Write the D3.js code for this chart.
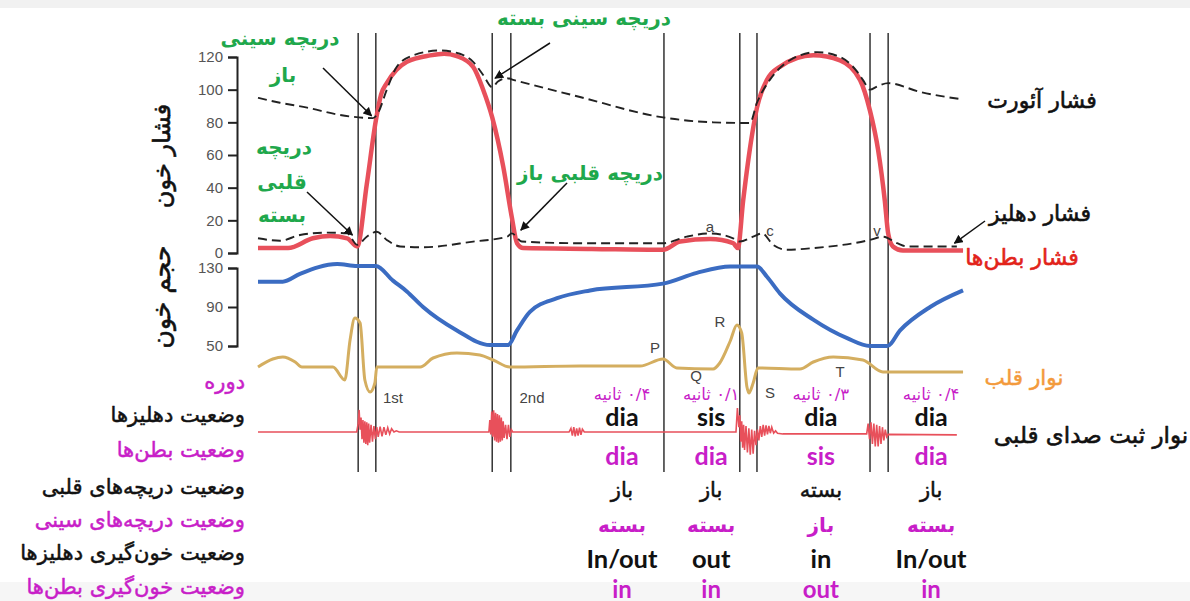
<!DOCTYPE html>
<html><head><meta charset="utf-8">
<script src="https://cdn.jsdelivr.net/npm/d3@7"></script>
<style>body{margin:0;background:#fff}svg{display:block}</style>
</head><body><svg id="c" width="1190" height="601"></svg>
<script>
// ---- data (time in ms) ----
const ventricularPressure = [[0,3],[63,3],[115,9],[151,10.4],[187,9],[208,4],[228,42],[247,81],[258,97],[270,104],[290,112],[312,117],[361,121],[390,122],[417,120.5],[451,114],[472,100],[491,83],[514,53],[532,22],[543,6],[556,3],[700,2.5],[849,2],[885,7],[948,8.5],[996,6],[1006,3],[1017,32],[1036,73],[1046,89],[1067,106],[1094,114],[1164,121],[1220,118],[1262,106],[1283,87],[1300,63],[1314,32],[1321,12],[1331,4],[1352,1.5],[1478,1.5]];
const aorticPressure = [[0,95],[46,92],[103,89],[172,84.5],[241,82.6],[252,86],[270,100],[291,114],[325,121],[382,124],[423,122],[451,117],[472,109],[491,101.5],[503,105],[522,107],[535,106],[675,95.5],[849,83],[954,80],[1031,79.6],[1046,92],[1073,106],[1115,118],[1172,123],[1220,120],[1256,111],[1268,106],[1283,100],[1298,102],[1321,104],[1388,98.6],[1478,94]];
const atrialPressure = [[0,9],[46,7.5],[88,11],[145,12.5],[187,12],[208,5],[228,10],[249,13],[270,8],[298,4],[346,3.5],[451,7],[522,10],[532,12],[553,7],[675,6],[849,6],[899,10],[948,12],[996,9],[1010,7],[1038,10],[1057,12],[1080,5],[1109,2],[1164,3],[1283,8],[1310,10],[1340,6],[1361,4],[1465,4]];
const ventricularVolume = [[0,116],[52,116],[88,124],[166,134],[208,132],[247,132],[283,117],[312,106],[346,90],[417,66],[486,51],[524,51],[543,66],[570,85],[627,99],[696,107],[849,114],[920,125],[990,131.5],[1046,131.5],[1067,121],[1094,104],[1164,77],[1235,58],[1283,50],[1319,50],[1346,66],[1409,90],[1478,107]];
const ecg = [[0,0],[31,0.16],[52,0.2],[78,0.1],[92,0],[157,0],[182,-0.26],[193,0.54],[203,0.98],[214,0.88],[224,-0.26],[235,-0.5],[245,-0.32],[249,0],[340,0],[367,0.18],[417,0.28],[465,0.24],[493,0.14],[528,0],[675,0.02],[801,0.02],[849,0.16],[878,-0.02],[954,-0.04],[968,0.08],[990,0.52],[1004,0.84],[1014,0.68],[1025,-0.4],[1029,-0.52],[1038,-0.32],[1048,-0.02],[1136,-0.04],[1164,0.1],[1206,0.2],[1268,0.14],[1310,-0.1],[1478,-0.1]];
const phono = [[0,0],[207,0],
[210,0.35],[212,0.92],[214,0.1],[216,0.6],[218,-0.3],[220,0.5],[222,-0.45],[224,0.45],[226,-0.5],[228,0.4],[230,-0.55],[232,0.35],[234,-0.45],[237,0.3],[240,-0.4],[243,0.25],[246,-0.3],[249,0.2],[252,-0.2],[256,0.22],[260,-0.18],[264,0.2],[268,-0.12],[272,0.18],[276,-0.08],[280,0.14],[285,0],[290,0.05],[296,0],
[484,0],[486,0.5],[488,-0.1],[490,0.85],[492,-0.2],[494,0.9],[496,-0.35],[498,0.8],[500,-0.4],[502,0.75],[504,-0.45],[506,0.7],[508,-0.4],[510,0.6],[512,-0.35],[514,0.45],[516,-0.25],[519,0.3],[522,-0.3],[525,0.3],[528,-0.2],[531,0.1],[534,0],
[652,0],[656,0.15],[659,-0.15],[662,0.2],[665,-0.18],[668,0.15],[671,-0.15],[674,0.18],[677,-0.12],[680,0.12],[684,0],
[1002,0],[1005,1.0],[1008,0.2],[1010,0.7],[1012,-0.4],[1014,0.45],[1016,-0.65],[1018,0.3],[1020,-0.75],[1023,0.25],[1026,-0.85],[1029,0.15],[1032,-0.95],[1035,0.1],[1038,-0.9],[1041,0.05],[1044,-0.55],[1047,0.1],[1050,-0.35],[1053,0.25],[1056,-0.2],[1059,0.3],[1062,-0.15],[1065,0.28],[1068,-0.1],[1071,0.25],[1074,-0.05],[1077,0.2],[1081,-0.05],[1085,0.05],[1089,-0.05],[1100,-0.08],
[1276,-0.08],[1279,0.35],[1282,-0.3],[1285,0.4],[1288,-0.5],[1291,0.35],[1294,-0.6],[1297,0.3],[1300,-0.6],[1303,0.25],[1306,-0.5],[1309,0.2],[1312,-0.35],[1315,0.1],[1318,-0.2],[1321,-0.1],[1465,-0.12]];
const eventTimes = [210,247,491,530,851,1010,1046,1283,1321];
const pressureTicks = [0,20,40,60,80,100,120];
const volumeTicks = [50,90,130];
const columnTimes = [763,950,1180,1411];
const periodDurations = ["۰/۴ ثانیه","۰/۱ ثانیه","۰/۳ ثانیه","۰/۴ ثانیه"];
const atriaState = ["dia","sis","dia","dia"];
const ventricleState = ["dia","dia","sis","dia"];
const avValveState = ["باز","باز","بسته","باز"];
const semilunarState = ["بسته","بسته","باز","بسته"];
const atriaFlow = ["In/out","out","in","In/out"];
const ventricleFlow = ["in","in","out","in"];
const rowLabels = ["دوره","وضعیت دهلیزها","وضعیت بطن‌ها","وضعیت دریچه‌های قلبی","وضعیت دریچه‌های سینی","وضعیت خون‌گیری دهلیزها","وضعیت خون‌گیری بطن‌ها"];

// ---- drawing ----
const svg = d3.select("#c");
const AR = "'DejaVu Sans', sans-serif";
const MAG = "#c81ec8", GREEN = "#1fa84c", RED = "#e8505b";
svg.append("rect").attr("width",1190).attr("height",601).attr("fill","#fff");
svg.append("rect").attr("width",1190).attr("height",8).attr("fill","#f1f1f1");
svg.append("rect").attr("y",582).attr("width",1190).attr("height",19).attr("fill","#f6f6f6");

const x = d3.scaleLinear().domain([0,1480]).range([258,964]);
const yP = d3.scaleLinear().domain([0,120]).range([253,57]);
const yV = d3.scaleLinear().domain([50,130]).range([346,268]);
const yE = d3.scaleLinear().domain([-1,1]).range([417,317]);
const yS = d3.scaleLinear().domain([-1,1]).range([456,408]);

const defs = svg.append("defs");
defs.append("marker").attr("id","ah").attr("viewBox","0 0 10 10").attr("refX",9).attr("refY",5)
  .attr("markerWidth",9).attr("markerHeight",9).attr("markerUnits","userSpaceOnUse").attr("orient","auto")
  .append("path").attr("d","M0,0L10,5L0,10z").attr("fill","#111");

// vertical event lines
svg.append("g").selectAll("line").data(eventTimes).join("line")
  .attr("x1",d=>x(d)).attr("x2",d=>x(d)).attr("y1",33).attr("y2",472)
  .attr("stroke","#333").attr("stroke-width",1.5);

// axes
function styleAxis(g){
  g.selectAll("path,line").attr("stroke","#222").attr("stroke-width",2);
  g.selectAll("text").attr("fill","#555").attr("font-family","'Liberation Sans', Arial, sans-serif").attr("font-size",15);
}
svg.append("g").attr("transform","translate(237,0)")
  .call(d3.axisLeft(yP).tickValues(pressureTicks).tickSize(9).tickSizeOuter(9).tickPadding(5)).call(styleAxis);
svg.append("g").attr("transform","translate(237,0)")
  .call(d3.axisLeft(yV).tickValues(volumeTicks).tickSize(9).tickSizeOuter(9).tickPadding(5)).call(styleAxis);

const thick = (sel,c,w) => sel.attr("stroke",c).attr("stroke-width",w).attr("paint-order","stroke").attr("stroke-linejoin","round");
thick(svg.append("text").attr("transform","translate(170,156) rotate(-90)").attr("text-anchor","middle")
  .attr("font-family",AR).attr("font-size",24).attr("direction","rtl").attr("fill","#111").text("فشار خون"),"#111",0.6);
thick(svg.append("text").attr("transform","translate(170,297) rotate(-90)").attr("text-anchor","middle")
  .attr("font-family",AR).attr("font-size",25).attr("direction","rtl").attr("fill","#111").text("حجم خون"),"#111",0.6);

const smooth = (ys) => d3.line().x(d=>x(d[0])).y(d=>ys(d[1])).curve(d3.curveMonotoneX);
const lin = (ys) => d3.line().x(d=>x(d[0])).y(d=>ys(d[1]));

svg.append("path").datum(phono).attr("d",lin(yS)).attr("fill","none").attr("stroke",RED).attr("stroke-width",1.6);
svg.append("path").datum(ecg).attr("d",smooth(yE)).attr("fill","none").attr("stroke","#d4ae60").attr("stroke-width",3);
svg.append("path").datum(ventricularVolume).attr("d",smooth(yV)).attr("fill","none").attr("stroke","#3b6cc2").attr("stroke-width",4);
svg.append("path").datum(ventricularPressure).attr("d",smooth(yP)).attr("fill","none").attr("stroke",RED).attr("stroke-width",4.5);
svg.append("path").datum(atrialPressure).attr("d",smooth(yP)).attr("fill","none").attr("stroke","#222").attr("stroke-width",1.9).attr("stroke-dasharray","9,5");
svg.append("path").datum(aorticPressure).attr("d",smooth(yP)).attr("fill","none").attr("stroke","#222").attr("stroke-width",1.9).attr("stroke-dasharray","9,5");

// small wave labels
const small = (px,py,s) => svg.append("text").attr("x",px).attr("y",py).attr("text-anchor","middle")
  .attr("dominant-baseline","central").attr("font-family","'Liberation Sans', Arial, sans-serif").attr("font-size",15).attr("fill","#444").text(s);
small(710,226,"a"); small(770,230,"c"); small(877,230,"v");
small(655,347,"P"); small(720,321,"R"); small(696,375,"Q"); small(770,392,"S"); small(840,371,"T");
small(393,397,"1st"); small(532,397,"2nd");

// arrows (tips anchored to data via scales)
const arrow = (x1,y1,x2,y2) => svg.append("line").attr("x1",x1).attr("y1",y1).attr("x2",x2).attr("y2",y2)
  .attr("stroke","#111").attr("stroke-width",1.5).attr("marker-end","url(#ah)");
arrow(323,68, x(238), yP(84));
arrow(307,192, x(198), yP(11));
arrow(550,43, x(497), yP(107));
arrow(567,183, x(551), yP(14));
arrow(985,221, x(1460), yP(6));

// labels
const lbl = (px,py,s,opt={}) => {
  const t = svg.append("text").attr("x",px).attr("y",py)
  .attr("text-anchor",opt.anchor||"middle").attr("dominant-baseline","central").attr("direction","rtl")
  .attr("font-family",opt.font||AR).attr("font-size",opt.size||20).attr("font-weight",opt.weight||"normal")
  .attr("fill",opt.color||"#111").text(s);
  if (opt.sw) thick(t, opt.color||"#111", opt.sw);
  return t;
};
const G = {color:GREEN, weight:"bold", size:20};
lbl(280,38,"دریچه سینی",G); lbl(283,75,"باز",G);
lbl(284,147,"دریچه",G); lbl(282,182,"قلبی",G); lbl(282,215,"بسته",G);
lbl(584,18,"دریچه سینی بسته",G); lbl(590,173,"دریچه قلبی باز",G);
lbl(1042,100,"فشار آئورت",{size:22,sw:0.6});
lbl(1040,213,"فشار دهلیز",{size:22,sw:0.6});
lbl(1022,257,"فشار بطن‌ها",{size:22,color:"#e2231a",sw:0.6});
lbl(1024,377,"نوار قلب",{size:21.5,color:"#f39a3c",sw:0.5});
lbl(1091,435,"نوار ثبت صدای قلبی",{size:23,sw:0.6});

// row labels
const rowY = [382,415,450,487,520,553,587];
rowLabels.forEach((s,i)=> lbl(245,rowY[i],s,{anchor:"start",size:21,color: i%2===0?MAG:"#111",sw:0.5}));

// table cells
const LAT = "Lato, 'Open Sans', sans-serif";
const rows = [
  {vals:periodDurations, y:394, color:MAG, size:16.5, font:AR},
  {vals:atriaState, y:416, color:"#111", size:25, font:LAT, weight:"bold"},
  {vals:ventricleState, y:455, color:MAG, size:25, font:LAT, weight:"bold"},
  {vals:avValveState, y:490, color:"#111", size:21, font:AR, sw:0.5},
  {vals:semilunarState, y:525, color:MAG, size:20, font:AR, weight:"bold"},
  {vals:atriaFlow, y:558, color:"#111", size:25.5, font:LAT, weight:"bold"},
  {vals:ventricleFlow, y:588, color:MAG, size:24, font:LAT, weight:"bold"}
];
rows.forEach(r=>{
  const s = svg.append("g").selectAll("text").data(r.vals).join("text")
    .attr("x",(d,i)=>x(columnTimes[i])).attr("y",r.y).attr("text-anchor","middle").attr("dominant-baseline","central")
    .attr("direction", r.font===AR?"rtl":"ltr")
    .attr("font-family",r.font).attr("font-size",r.size).attr("font-weight",r.weight||"normal").attr("fill",r.color).text(d=>d);
  if (r.sw) thick(s, r.color, r.sw);
});
</script></body></html>
